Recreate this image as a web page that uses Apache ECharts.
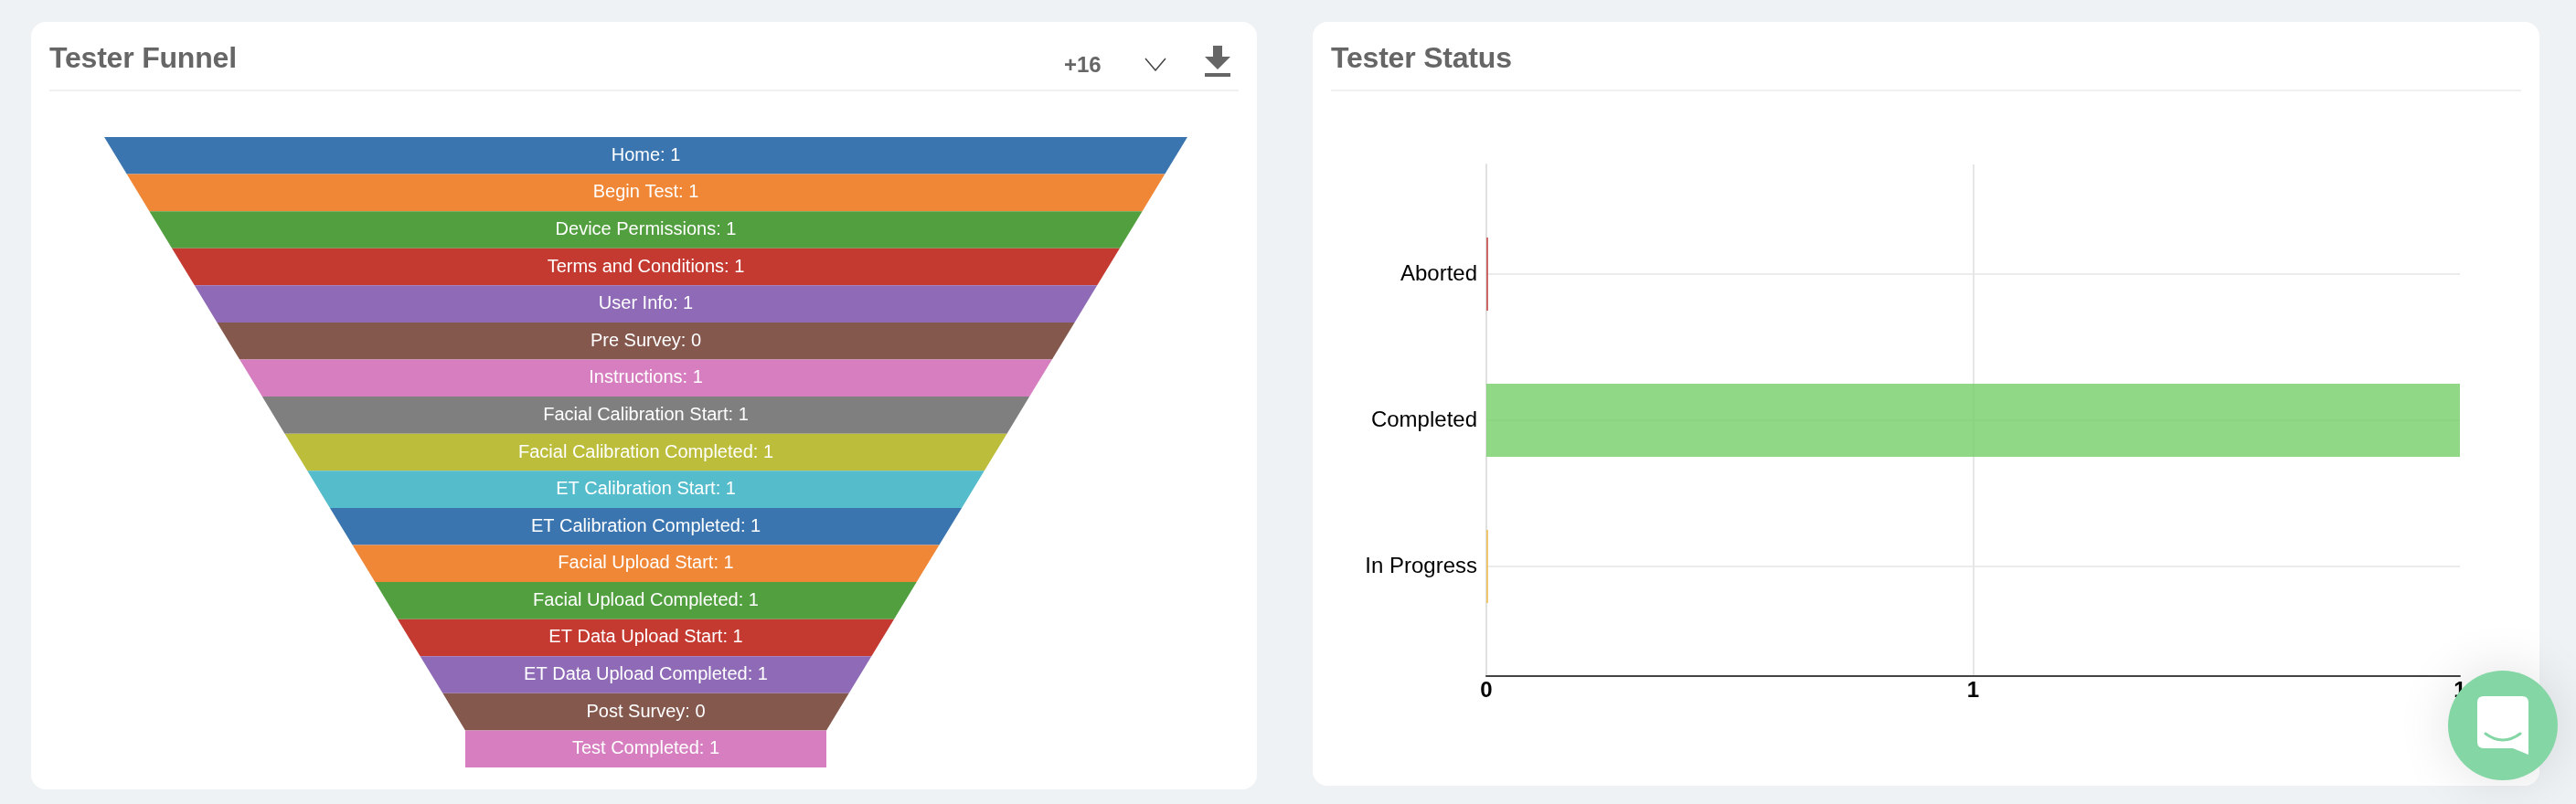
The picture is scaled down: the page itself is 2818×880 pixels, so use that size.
<!DOCTYPE html>
<html>
<head>
<meta charset="utf-8">
<title>Tester Dashboard</title>
<script src="https://cdn.jsdelivr.net/npm/echarts@6/dist/echarts.min.js"></script>
<style>
  html, body { margin: 0; padding: 0; width: 2818px; height: 880px; overflow: hidden; background: #eef2f5; font-family: "Liberation Sans", Arial, sans-serif; }
  .card { position: absolute; background: #fff; border-radius: 16px; }
  #funnel_card { left: 34px; top: 24px; width: 1341px; height: 840px; }
  #status_card { left: 1436px; top: 24px; width: 1342px; height: 836px; }
  .chart { position: absolute; left: 0; top: 0; width: 100%; height: 100%; }
  .title { position: absolute; left: 20px; top: 20px; font-size: 32px; line-height: 38px; font-weight: bold; color: #666; letter-spacing: -0.2px; z-index: 2; }
  .rule { position: absolute; left: 20px; right: 20px; top: 74px; height: 2px; background: #f0f0f0; z-index: 2; }
  .more { position: absolute; left: 1130px; top: 33px; font-size: 24px; line-height: 28px; font-weight: bold; color: #666; z-index: 2; }
  .icon { position: absolute; z-index: 2; }
  #chat { position: absolute; left: 2678px; top: 734px; width: 120px; height: 120px; border-radius: 50%; background: #85d6a5; box-shadow: 0 0 60px rgba(0, 0, 0, .12); z-index: 5; }
</style>
</head>
<body>

<div class="card" id="funnel_card">
  <div class="title">Tester Funnel</div>
  <div class="more">+16</div>
  <svg class="icon" style="left:1218px;top:39px" width="24" height="15" viewBox="0 0 24 15">
    <path d="M1 1 L12 14 L23 1" fill="none" stroke="#444" stroke-width="1.5"/>
  </svg>
  <svg class="icon" style="left:1284px;top:26px" width="28" height="34" viewBox="0 0 28 34">
    <path d="M9 0 H19 V12 H28 L14 26 L0 12 H9 Z M0 30 H28 V34 H0 Z" fill="#666"/>
  </svg>
  <div class="rule"></div>
  <div class="chart" id="tester_funnel"></div>
</div>

<div class="card" id="status_card">
  <div class="title">Tester Status</div>
  <div class="rule"></div>
  <div class="chart" id="tester_status"></div>
</div>

<div id="chat">
  <svg class="icon" style="left:32px;top:28px" width="56" height="64" viewBox="0 0 56 64">
    <path d="M7 0 H49 Q56 0 56 7 V64 L39 57 H7 Q0 57 0 50 V7 Q0 0 7 0 Z" fill="#fff"/>
    <path d="M9 41 Q28 55 47 41" fill="none" stroke="#85d6a5" stroke-width="3" stroke-linecap="round"/>
  </svg>
</div>

<script>
  // Funnel stages, in display order
  var stageNames = ['Home', 'Begin Test', 'Device Permissions', 'Terms and Conditions', 'User Info', 'Pre Survey',
    'Instructions', 'Facial Calibration Start', 'Facial Calibration Completed', 'ET Calibration Start',
    'ET Calibration Completed', 'Facial Upload Start', 'Facial Upload Completed', 'ET Data Upload Start',
    'ET Data Upload Completed', 'Post Survey', 'Test Completed'];
  var stageCounts = [1, 1, 1, 1, 1, 0, 1, 1, 1, 1, 1, 1, 1, 1, 1, 0, 1];
  // the picture narrows by stage position, not by count
  var stageRanks = [17, 16, 15, 14, 13, 12, 11, 10, 9, 8, 7, 6, 5, 4, 3, 2, 1];
  var stageColors = ['#3a75b0', '#f08737', '#529f3f', '#c43a31', '#8f6ab6', '#85584e', '#d67ebf', '#7f7f7f', '#bcbd3a', '#55bccc'];

  // Tester status
  var statusNames = ['Aborted', 'Completed', 'In Progress'];
  var statusValues = [0, 1, 0];
  var statusColors = ['#c44545', '#74cd68', '#eebc4b'];
  var statusTickLabels = ['0', '1', '1'];


  /*--------------- Tester Funnel -------------*/
  var funnelChart = echarts.init(document.getElementById('tester_funnel'));

  var funnelData = [];
  for (var i = 0; i < stageNames.length; i++) {
    funnelData.push({
      name: stageNames[i],
      value: stageRanks[i],
      itemStyle: { color: stageColors[i % stageColors.length] }
    });
  }

  funnelChart.setOption({
    animation: false,
    series: [{
      type: 'funnel',
      left: 80,
      top: 126,
      width: 1185,
      height: 690,
      min: 1,
      max: 17,
      minSize: 395,
      maxSize: 1185,
      sort: 'none',
      gap: 0,
      funnelAlign: 'center',
      silent: true,
      itemStyle: { borderWidth: 0 },
      label: {
        show: true,
        position: 'inside',
        padding: [0, 0, 3, 0],
        color: '#fff',
        fontSize: 20,
        fontFamily: 'Liberation Sans',
        formatter: function (p) {
          return p.name + ': ' + stageCounts[p.dataIndex];
        }
      },
      labelLine: { show: false },
      data: funnelData
    }]
  });


  /*--------------- Tester Status -------------*/
  var statusChart = echarts.init(document.getElementById('tester_status'));

  var statusData = [];
  for (var j = 0; j < statusNames.length; j++) {
    statusData.push({ value: statusValues[j], itemStyle: { color: statusColors[j], opacity: 0.8 } });
  }

  statusChart.setOption({
    animation: false,
    // outer grid holds the value axis, inner one the rows
    grid: [
      { left: 190, right: 87, top: 156, height: 560 },
      { left: 190, right: 87, top: 276, height: 320 }
    ],
    xAxis: [
      {
        gridIndex: 0,
        type: 'value',
        min: 0,
        max: 1,
        interval: 0.5,
        axisLine: { show: true, lineStyle: { color: '#444', width: 2 } },
        axisTick: { show: false },
        axisLabel: {
          color: '#000',
          fontSize: 24,
          fontWeight: 'bold',
          fontFamily: 'Liberation Sans',
          margin: 4,
          formatter: function (v, idx) { return statusTickLabels[idx]; }
        },
        splitLine: { show: true, showMinLine: false, showMaxLine: false, lineStyle: { color: '#e6e6e6', width: 2 } }
      },
      { gridIndex: 1, type: 'value', min: 0, max: 1, show: false }
    ],
    yAxis: [
      {
        gridIndex: 0,
        type: 'value',
        min: 0,
        max: 1,
        axisLine: { show: true, lineStyle: { color: '#e0e0e0', width: 2 } },
        axisTick: { show: false },
        axisLabel: { show: false },
        splitLine: { show: false }
      },
      {
        gridIndex: 1,
        type: 'category',
        inverse: true,
        boundaryGap: false,
        data: statusNames,
        axisLine: { show: false },
        axisTick: { show: false },
        axisLabel: { color: '#000', fontSize: 24, fontFamily: 'Liberation Sans', margin: 10, padding: [4, 0, 0, 0] },
        splitLine: { show: true, lineStyle: { color: '#ececec', width: 2 } }
      }
    ],
    series: [{
      type: 'bar',
      xAxisIndex: 1,
      yAxisIndex: 1,
      barWidth: 80,
      barMinHeight: 2,
      clip: false,
      silent: true,
      data: statusData
    }]
  });
</script>
</body>
</html>
